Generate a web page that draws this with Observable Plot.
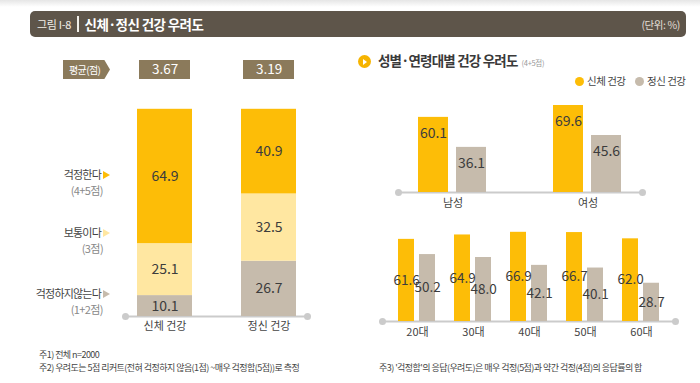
<!DOCTYPE html>
<html>
<head>
<meta charset="utf-8">
<script src="https://cdn.jsdelivr.net/npm/d3@7"></script>
<script src="https://cdn.jsdelivr.net/npm/@observablehq/plot@0.6"></script>
<style>
  html, body { margin: 0; padding: 0; background: #fff; }
  body { width: 700px; height: 383px; position: relative; overflow: hidden;
         font-family: "Noto Sans CJK KR", "Noto Sans", sans-serif; color: #444; }
  .abs { position: absolute; }
  .topband { left: 0; top: 0; width: 700px; height: 7px; background: linear-gradient(#e6e6e6, #fff); }
  .titlebar { left: 30px; top: 11px; width: 656px; height: 26px; background: #5e554a; border-radius: 5px;
              display: flex; align-items: center; }
  .titlebar .fig { margin-left: 7px; font-size: 11px; color: #f2efe9; letter-spacing: -0.3px; }
  .titlebar .sep { margin: 0 6px 0 6px; width: 1.5px; height: 16px; background: #f2efe9; }
  .titlebar .main { font-size: 13.5px; font-weight: 700; color: #fff; letter-spacing: -0.6px; }
  .titlebar .unit { margin-left: auto; margin-right: 6px; font-size: 10.5px; color: #e3ded6; letter-spacing: -0.4px; }
  .avglabel { left: 63px; top: 60px; width: 47px; height: 19px; background: #8b7a5b;
              clip-path: polygon(0 0, 88% 0, 100% 50%, 88% 100%, 0 100%);
              color: #fff; font-size: 10px; line-height: 19px; text-indent: 6px; letter-spacing: -0.6px; }
  .lvl { width: 110px; text-align: right; font-size: 11px; letter-spacing: -0.8px; color: #444; }
  .sub { width: 103px; text-align: right; font-size: 11px; letter-spacing: -0.6px; color: #888; }
  .tri { display: inline-block; width: 0; height: 0; border-top: 4.5px solid transparent; border-bottom: 4.5px solid transparent;
         border-left: 7px solid #fbbd08; margin-left: 2px; vertical-align: 0px; }
  .rtitle { left: 378px; top: 50px; font-size: 13.5px; font-weight: 700; color: #3a3a3a; letter-spacing: -0.8px; }
  .rtitle small { font-size: 7.5px; font-weight: 400; color: #999; margin-left: 4px; letter-spacing: -0.3px; }
  .icon { left: 358px; top: 55px; width: 13px; height: 13px; border-radius: 50%; background: #f6b400; }
  .icon::after { content: ""; position: absolute; left: 5px; top: 3.5px; border-top: 3px solid transparent; border-bottom: 3px solid transparent; border-left: 4.5px solid #fff; }
  .legend { top: 73px; font-size: 10.5px; letter-spacing: -0.5px; color: #444; }
  .legend span.dot { display: inline-block; width: 9px; height: 9px; border-radius: 50%; margin-right: 3px; vertical-align: -1px; }
  .note { font-size: 9px; line-height: 11px; letter-spacing: -0.55px; color: #444; white-space: nowrap; }
</style>
</head>
<body>
<script>
// ---------- data ----------
const titleFig = "그림 I-8";
const titleMain = "신체·정신 건강 우려도";
const unitText = "(단위: %)";

const stackCats = ["신체 건강", "정신 건강"];
const stackLevels = ["걱정하지않는다", "보통이다", "걱정한다"]; // bottom → top
const stackPhysical = [10.1, 25.1, 64.9];
const stackMental = [26.7, 32.5, 40.9];
const averages = [3.67, 3.19];
const avgLabel = "평균(점)";

const levelLabels = ["걱정한다", "보통이다", "걱정하지않는다"];
const levelSubs = ["(4+5점)", "(3점)", "(1+2점)"];

const rightTitle = "성별·연령대별 건강 우려도";
const rightTitleSub = "(4+5점)";
const seriesNames = ["신체 건강", "정신 건강"];

const genders = ["남성", "여성"];
const genderPhysical = [60.1, 69.6];
const genderMental = [36.1, 45.6];

const ages = ["20대", "30대", "40대", "50대", "60대"];
const agePhysical = [61.6, 64.9, 66.9, 66.7, 62.0];
const ageMental = [50.2, 48.0, 42.1, 40.1, 28.7];

const notes = [
  "주1) 전체 n=2000",
  "주2) 우려도는 5점 리커트(전혀 걱정하지 않음(1점) ~매우 걱정함(5점))로 측정",
  "주3) '걱정함'의 응답(우려도)은 매우 걱정(5점)과 약간 걱정(4점)의 응답률의 합"
];

// ---------- style ----------
const FONT = '"Noto Sans CJK KR", "Noto Sans", sans-serif';
const YELLOW = "#fdbd07";
const LIGHT = "#ffe7a1";
const GRAY = "#c6bbac";
const AXIS = "#cbcbcb";
const LABEL = "#3c3c3c";
const baseStyle = {fontFamily: FONT, fontSize: "11px", color: "#444", background: "transparent", overflow: "visible"};

function place(node, left, top) {
  const d = document.createElement("div");
  d.className = "abs";
  d.style.left = left + "px";
  d.style.top = top + "px";
  d.appendChild(node);
  document.body.appendChild(d);
  return d;
}
function html(cls, inner, left, top) {
  const d = document.createElement("div");
  d.className = "abs " + cls;
  if (left != null) d.style.left = left + "px";
  if (top != null) d.style.top = top + "px";
  d.innerHTML = inner;
  document.body.appendChild(d);
  return d;
}
// baseline axis (line with end dots) sharing a chart's frame and y scale
function baseline(w, h, m, yDomain) {
  return Plot.plot({
    width: w, height: h,
    marginLeft: m.l, marginRight: m.r, marginTop: m.t, marginBottom: m.b,
    style: baseStyle,
    y: {domain: yDomain, axis: null},
    marks: [
      Plot.ruleY([0], {stroke: AXIS, strokeWidth: 2}),
      Plot.dot([0], {y: d => d, frameAnchor: "left", r: 3.5, fill: AXIS}),
      Plot.dot([0], {y: d => d, frameAnchor: "right", r: 3.5, fill: AXIS})
    ]
  });
}

// ---------- static text ----------
html("topband", "");
html("titlebar", `<span class="fig">${titleFig}</span><span class="sep"></span><span class="main">${titleMain}</span><span class="unit">${unitText}</span>`);
html("avglabel", avgLabel);

const triColors = [YELLOW, LIGHT, GRAY];
const lvlTops = [166, 224, 285];
levelLabels.forEach((t, i) => {
  html("lvl", `${t}<span class="tri" style="border-left-color:${triColors[i]}"></span>`, 0, lvlTops[i]);
  html("sub", levelSubs[i], 0, lvlTops[i] + 16);
});

html("icon", "");
html("rtitle", `${rightTitle}<small>${rightTitleSub}</small>`);
html("legend", `<span class="dot" style="background:${YELLOW}"></span>${seriesNames[0]}`, 575, null);
html("legend", `<span class="dot" style="background:${GRAY}"></span>${seriesNames[1]}`, 635, null);

html("note", notes[0], 39, 349);
html("note", notes[1], 39, 362);
html("note", notes[2], 379, 362);

// ---------- left: stacked bars ----------
const stackData = [];
stackCats.forEach((c, i) => stackLevels.forEach((l, j) => {
  stackData.push({cat: c, level: l, value: (i === 0 ? stackPhysical : stackMental)[j]});
}));
const xLeft = {domain: stackCats, paddingInner: 0.474, paddingOuter: 0.108};

const avgData = stackCats.map((c, i) => ({cat: c, avg: averages[i]}));
const avgPlot = Plot.plot({
  width: 340, height: 19,
  marginLeft: 125, marginRight: 33, marginTop: 0, marginBottom: 0,
  style: baseStyle,
  x: {...xLeft, axis: null},
  marks: [
    Plot.cell(avgData, {x: "cat", fill: "#8b7a5b", insetLeft: 2, insetRight: 2}),
    Plot.text(avgData, {x: "cat", text: d => d.avg.toFixed(2), fill: "#fff", fontSize: 13.5})
  ]
});
place(avgPlot, 0, 60);

const leftPlot = Plot.plot({
  width: 340, height: 240,
  marginLeft: 125, marginRight: 33, marginTop: 9, marginBottom: 24,
  style: baseStyle,
  x: {...xLeft, tickSize: 0, tickPadding: 6, label: null},
  y: {domain: [0, 100], axis: null},
  color: {domain: stackLevels, range: [GRAY, LIGHT, YELLOW]},
  marks: [
    Plot.ruleY([0], {stroke: AXIS, strokeWidth: 2}),
    Plot.dot([0], {y: d => d, frameAnchor: "left", r: 3.5, fill: AXIS}),
    Plot.dot([0], {y: d => d, frameAnchor: "right", r: 3.5, fill: AXIS}),
    Plot.barY(stackData, {x: "cat", y: "value", z: "level", fill: "level", order: stackLevels}),
    Plot.text(stackData, Plot.stackY({x: "cat", y: "value", z: "level", order: stackLevels,
      text: d => d.value.toFixed(1), fill: LABEL, fontSize: 14}))
  ]
});
place(leftPlot, 0, 100);

// ---------- right top: gender ----------
const genderData = genders.flatMap((g, i) => [
  {group: g, series: seriesNames[0], value: genderPhysical[i]},
  {group: g, series: seriesNames[1], value: genderMental[i]}
]);
const gM = {l: 48, r: 58, t: 7, b: 23};
place(baseline(350, 120, gM, [0, 72]), 350, 95);
const genderPlot = Plot.plot({
  width: 350, height: 120,
  marginLeft: gM.l, marginRight: gM.r, marginTop: gM.t, marginBottom: gM.b,
  style: baseStyle,
  fx: {domain: genders, paddingInner: 0.193, paddingOuter: 0, axis: "bottom", tickSize: 0, tickPadding: 7, label: null},
  x: {domain: seriesNames, paddingInner: 0.2, paddingOuter: 0.534, axis: null},
  y: {domain: [0, 72], axis: null},
  color: {domain: seriesNames, range: [YELLOW, GRAY]},
  marks: [
    Plot.barY(genderData, {fx: "group", x: "series", y: "value", fill: "series"}),
    Plot.text(genderData, {fx: "group", x: "series", y: "value", dy: 16, text: d => d.value.toFixed(1), fill: LABEL, fontSize: 14})
  ]
});
place(genderPlot, 350, 95);

// ---------- right bottom: age ----------
const ageData = ages.flatMap((a, i) => [
  {group: a, series: seriesNames[0], value: agePhysical[i]},
  {group: a, series: seriesNames[1], value: ageMental[i]}
]);
const aM = {l: 32, r: 25, t: 6, b: 29};
place(baseline(350, 135, aM, [0, 75]), 350, 215);
const agePlot = Plot.plot({
  width: 350, height: 135,
  marginLeft: aM.l, marginRight: aM.r, marginTop: aM.t, marginBottom: aM.b,
  style: baseStyle,
  fx: {domain: ages, paddingInner: 0, paddingOuter: 0.104, axis: "bottom", tickSize: 0, tickPadding: 7, label: null},
  x: {domain: seriesNames, paddingInner: 0.227, paddingOuter: 0.392, axis: null},
  y: {domain: [0, 75], axis: null},
  color: {domain: seriesNames, range: [YELLOW, GRAY]},
  marks: [
    Plot.barY(ageData, {fx: "group", x: "series", y: "value", fill: "series"}),
    Plot.text(ageData, {fx: "group", x: "series", y: d => d.value / 2, text: d => d.value.toFixed(1), fill: LABEL, fontSize: 13.5})
  ]
});
place(agePlot, 350, 215);
</script>
</body>
</html>
